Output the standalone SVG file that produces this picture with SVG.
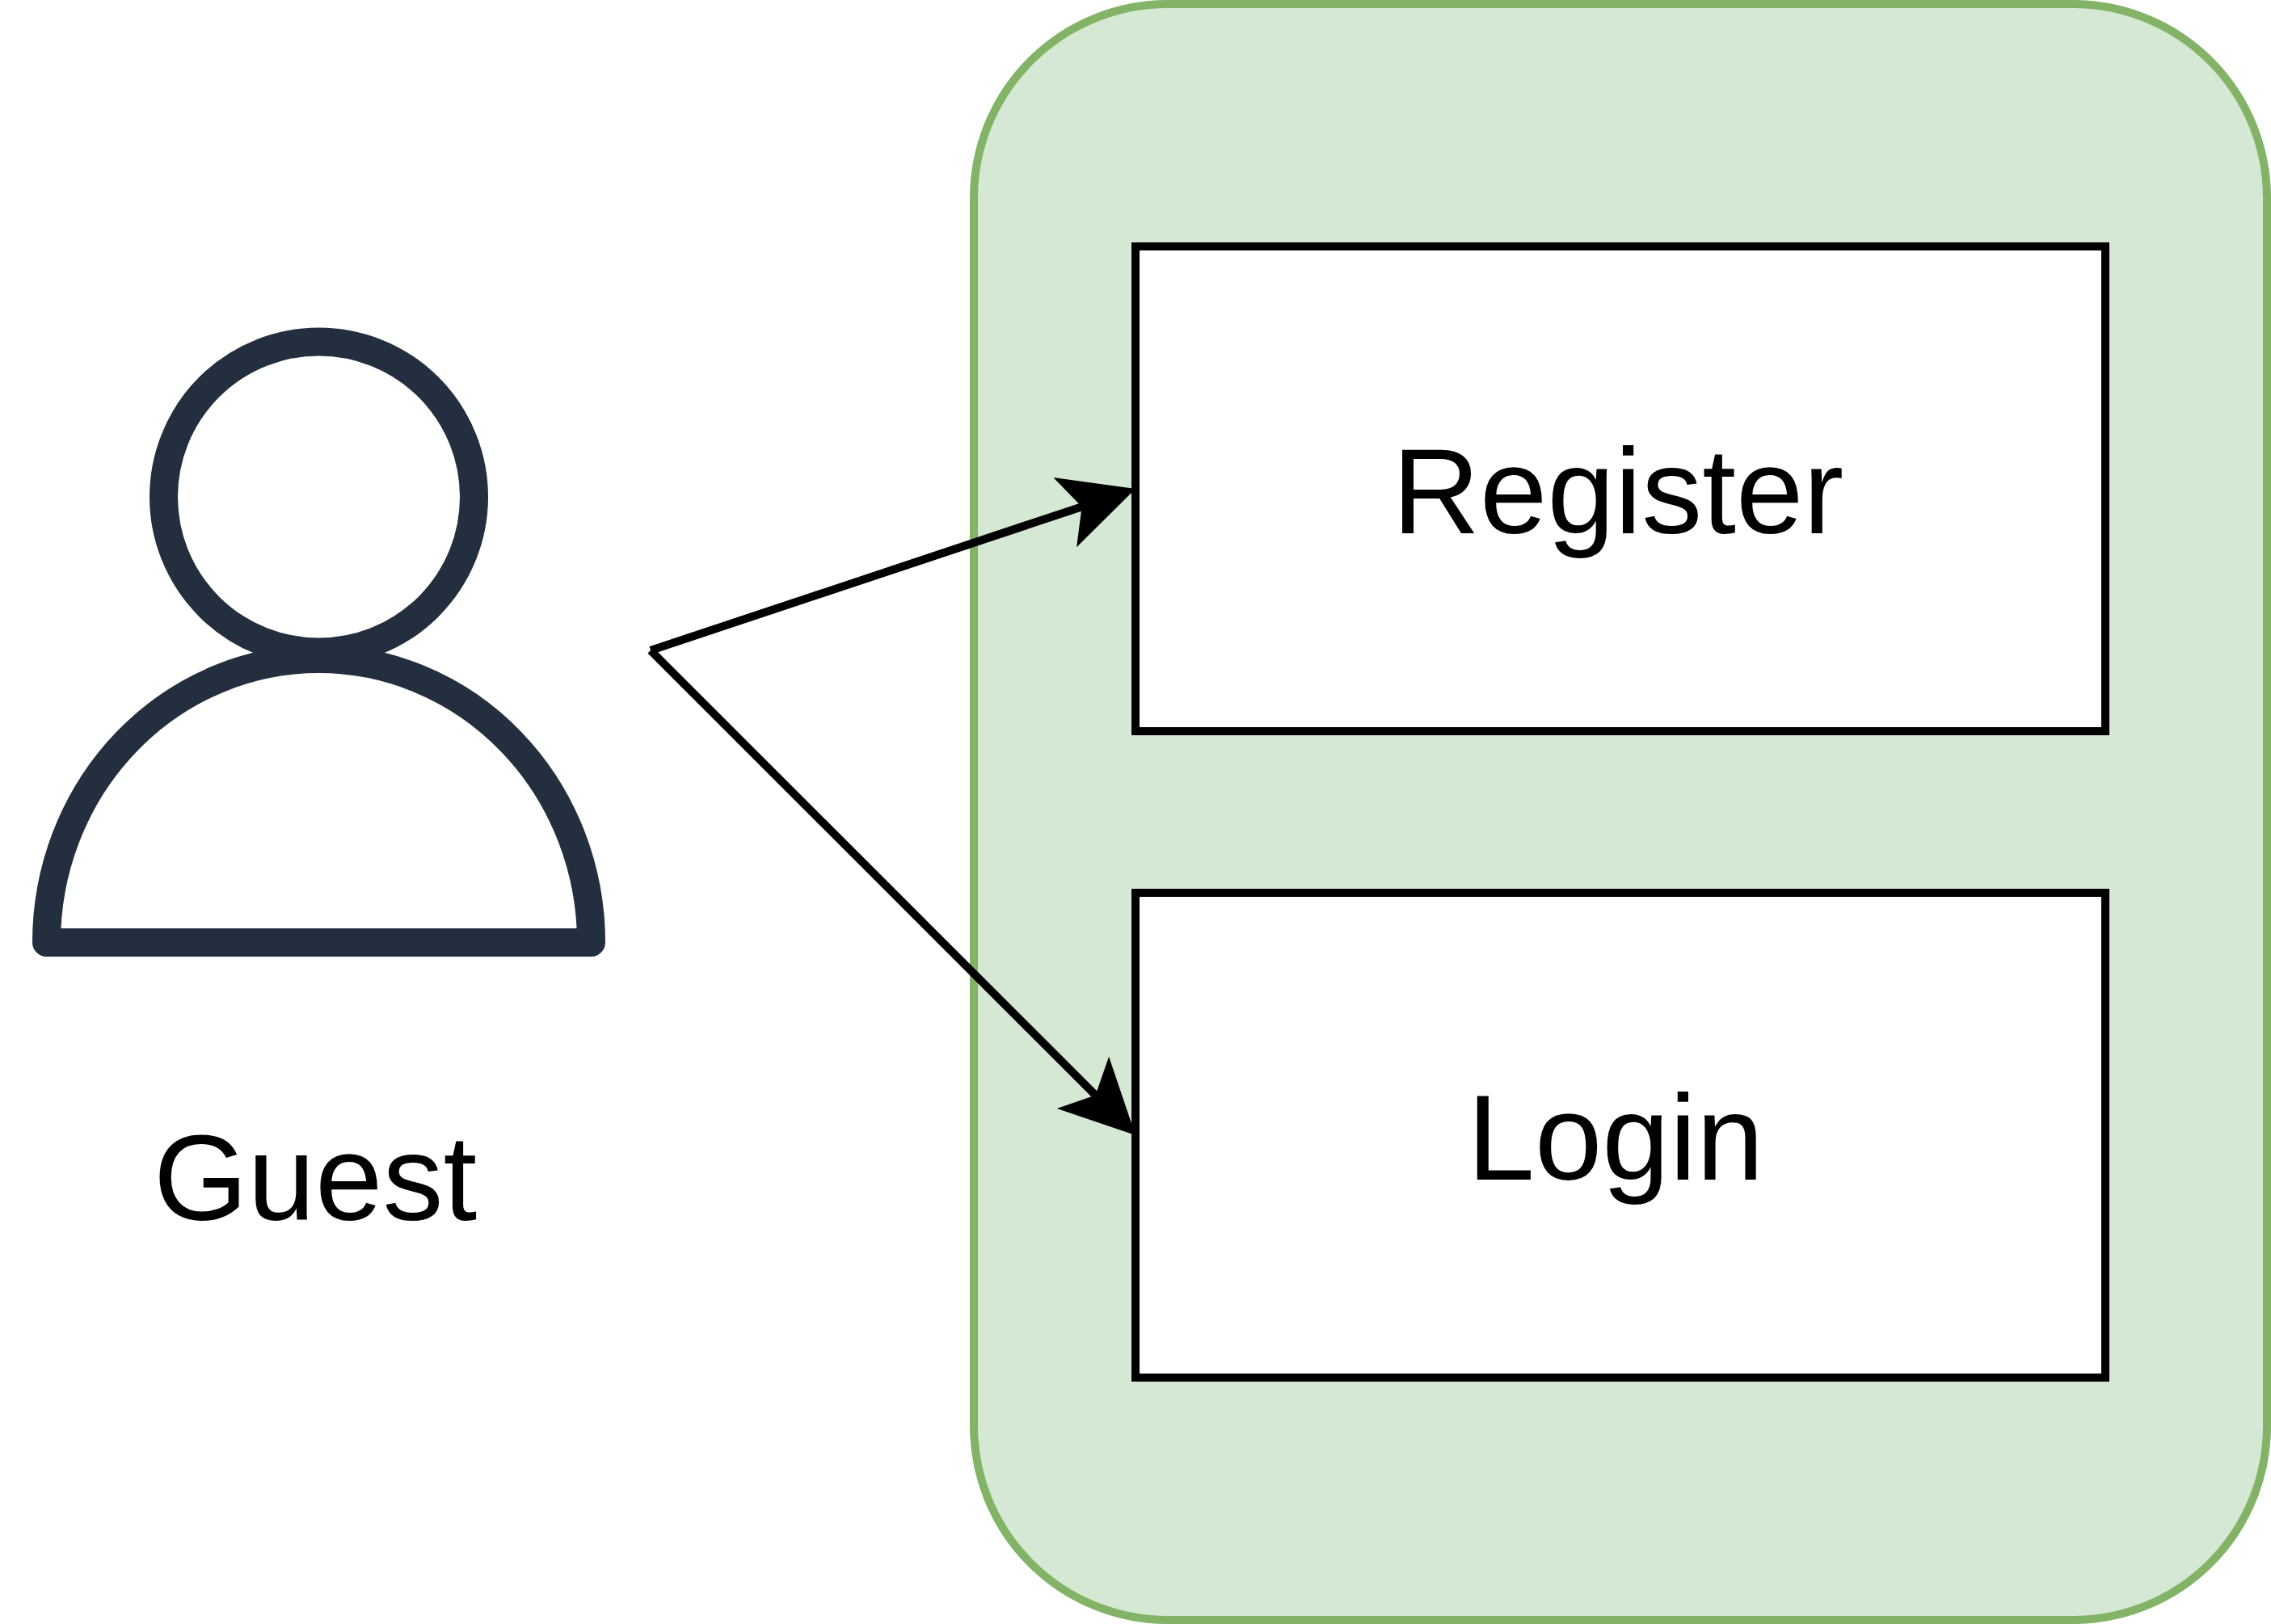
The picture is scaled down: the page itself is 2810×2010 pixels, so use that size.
<svg xmlns="http://www.w3.org/2000/svg" width="2810" height="2010" viewBox="0 0 2810 2010">
<style>
.lbl{font-family:"Liberation Sans",Arial,sans-serif;font-size:150px;fill:#000;text-anchor:middle}
.box{fill:#fff;stroke:#000;stroke-width:10}
.user{fill:none;stroke:#232f3e;stroke-width:35;stroke-linejoin:round}
.edge{fill:none;stroke:#000;stroke-width:10;marker-end:url(#head)}
</style>
<defs>
<marker id="head" markerUnits="userSpaceOnUse" viewBox="0 0 92 92" markerWidth="92" markerHeight="92" refX="26" refY="46" orient="auto">
<path d="M92 46L0 .5L22 46L0 91.500Z" fill="#000"/>
</marker>
</defs>
<rect width="2810" height="2010" fill="#fff"/>
<g id="container"><rect x="1205" y="5" width="1600" height="2000" rx="240" ry="240" fill="#d5e8d4" stroke="#82b366" stroke-width="10"/></g>
<g id="connectors">
<line class="edge" x1="805" y1="805" x2="1342.400" y2="625.900"/>
<line class="edge" x1="805" y1="805" x2="1358.300" y2="1358.300"/>
</g>
<g id="register"><rect class="box" x="1405" y="305" width="1200" height="600"/><text class="lbl" x="2002" y="660">Register</text></g>
<g id="login"><rect class="box" x="1405" y="1105" width="1200" height="600"/><text class="lbl" x="1999" y="1460">Login</text></g>
<g id="guest">
<circle class="user" cx="394.500" cy="615" r="192"/>
<path class="user" d="M57.500 1166.500A337 351 0 0 1 731.500 1166.500Z"/>
<text class="lbl" x="390" y="1510">Guest</text>
</g>
</svg>
